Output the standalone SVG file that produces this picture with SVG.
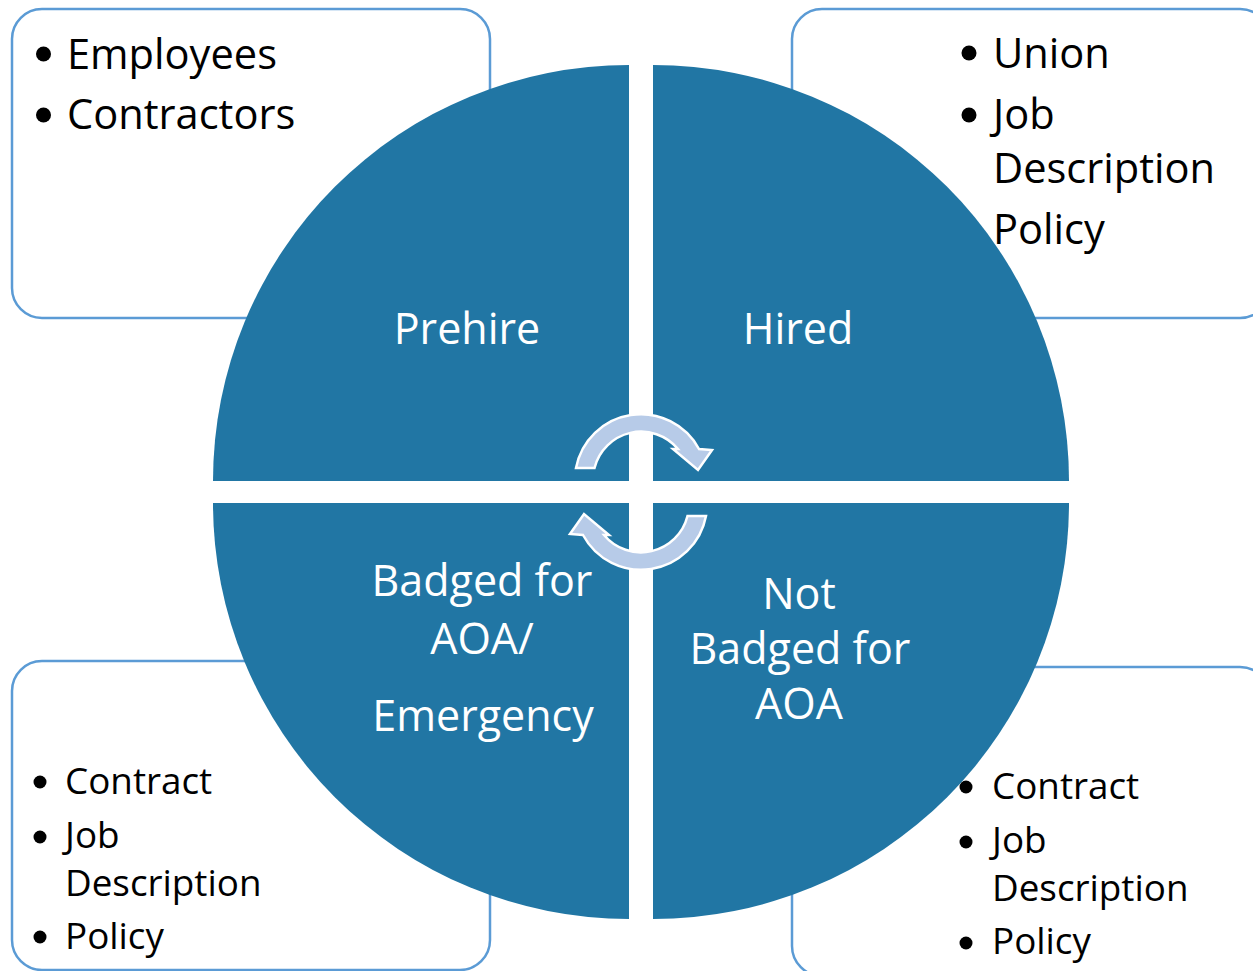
<svg xmlns="http://www.w3.org/2000/svg" width="1253" height="971" viewBox="0 0 1253 971">
<style>
.box{fill:#ffffff;stroke:#5b9bd5;stroke-width:2.5}
.quad{fill:#2176a4}
.lbl{font-family:"Open Sans","Noto Sans",sans-serif;font-size:43px;fill:#ffffff;text-anchor:middle}
.t1{font-family:"Open Sans","Noto Sans",sans-serif;font-size:41.6px;fill:#000000}
.t2{font-family:"Open Sans","Noto Sans",sans-serif;font-size:36.8px;fill:#000000}
.bul{fill:#000000}
.arr{fill:#b7cbe8;stroke:#ffffff;stroke-width:2.5;stroke-linejoin:miter}
</style>
<rect width="1253" height="971" fill="#ffffff"/>
<g id="boxes">
<rect id="box-tl" class="box" x="12" y="9" width="478" height="309" rx="30"/>
<rect id="box-tr" class="box" x="792" y="9" width="478" height="309" rx="30"/>
<rect id="box-bl" class="box" x="12" y="661" width="478" height="309" rx="30"/>
<rect id="box-br" class="box" x="792" y="667" width="478" height="309" rx="30"/>
</g>
<g id="prehire">
<path class="quad" d="M629,481 L213,481 A416,416 0 0 1 629,65 Z"/>
<text class="lbl" x="467" y="344">Prehire</text>
</g>
<g id="hired">
<path class="quad" d="M653,481 L653,65 A416,416 0 0 1 1069,481 Z"/>
<text class="lbl" x="798" y="344">Hired</text>
</g>
<g id="badged">
<path class="quad" d="M629,503 L629,919 A416,416 0 0 1 213,503 Z"/>
<text class="lbl" x="482" y="596">Badged for</text>
<text class="lbl" x="482" y="654">AOA/</text>
<text class="lbl" x="483" y="731">Emergency</text>
</g>
<g id="notbadged">
<path class="quad" d="M653,503 L1069,503 A416,416 0 0 1 653,919 Z"/>
<text class="lbl" x="799" y="609">Not</text>
<text class="lbl" x="800" y="664">Badged for</text>
<text class="lbl" x="799" y="719">AOA</text>
</g>
<g id="connectors">
<path class="arr" d="M576,468 A66,66 0 0 1 699,449 L712,450 L698,470 L673,449 L678,449 A48,48 0 0 0 594.5,468 Z"/>
<path class="arr" transform="rotate(180 641 492)" d="M576,468 A66,66 0 0 1 699,449 L712,450 L698,470 L673,449 L678,449 A48,48 0 0 0 594.5,468 Z"/>
</g>
<g id="text-tl">
<circle class="bul" cx="43.5" cy="54" r="7.5"/>
<text class="t1" x="67" y="69">Employees</text>
<circle class="bul" cx="43.5" cy="115" r="7.5"/>
<text class="t1" x="67" y="129">Contractors</text>
</g>
<g id="text-tr">
<circle class="bul" cx="969" cy="53" r="7.5"/>
<text class="t1" x="993" y="68">Union</text>
<circle class="bul" cx="969" cy="115" r="7.5"/>
<text class="t1" x="993" y="129">Job</text>
<text class="t1" x="993" y="183">Description</text>
<text class="t1" x="993" y="244">Policy</text>
</g>
<g id="text-bl">
<circle class="bul" cx="40" cy="782" r="6.5"/>
<text class="t2" x="65" y="794">Contract</text>
<circle class="bul" cx="40" cy="837" r="6.5"/>
<text class="t2" x="65" y="848">Job</text>
<text class="t2" x="65" y="896">Description</text>
<circle class="bul" cx="40" cy="937" r="6.5"/>
<text class="t2" x="65" y="949">Policy</text>
</g>
<g id="text-br">
<circle class="bul" cx="966" cy="787" r="6.5"/>
<text class="t2" x="992" y="799">Contract</text>
<circle class="bul" cx="966" cy="842" r="6.5"/>
<text class="t2" x="992" y="853">Job</text>
<text class="t2" x="992" y="901">Description</text>
<circle class="bul" cx="966" cy="943" r="6.5"/>
<text class="t2" x="992" y="954">Policy</text>
</g>
</svg>
